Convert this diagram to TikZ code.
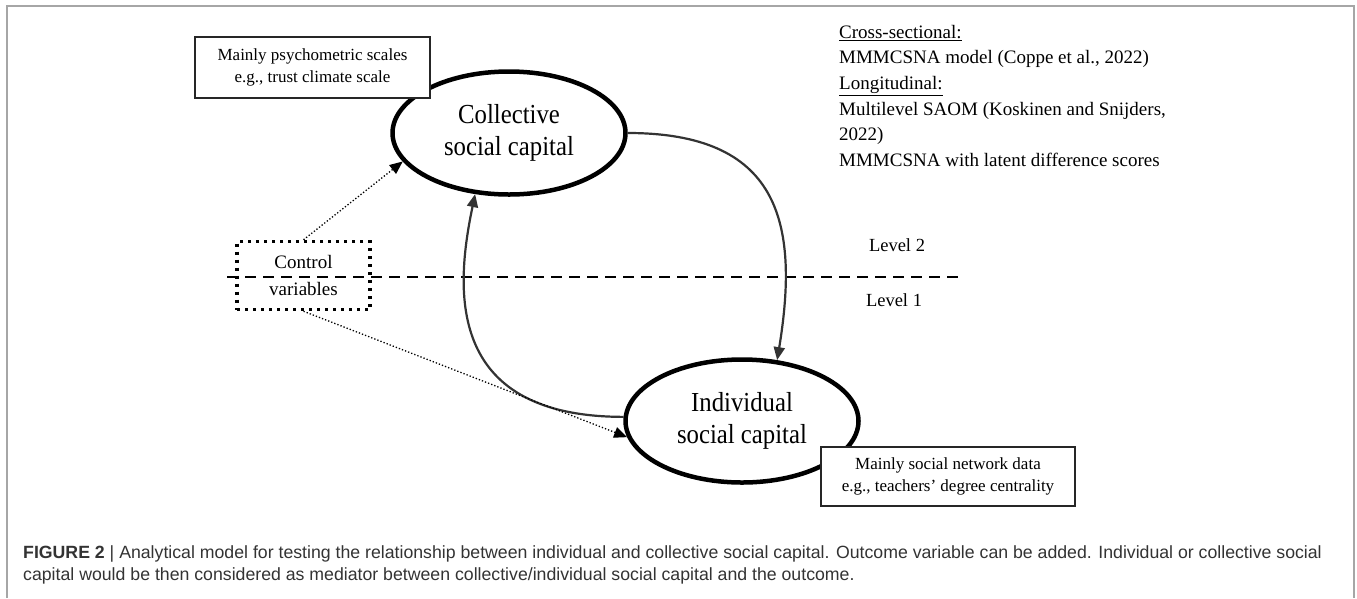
\documentclass[tikz,border=0pt]{standalone}
\usepackage{fontspec}
\setmainfont{Liberation Serif}
\newfontfamily\ellipsefont{Liberation Serif}[FakeStretch=0.9]
\newfontfamily\captionfont{Liberation Sans}
\usetikzlibrary{shapes.geometric, arrows.meta, positioning}
\tikzstyle{capital_node} = [ellipse, draw=black, line width=4.5pt, minimum width=233pt, minimum height=123pt, align=center, font=\ellipsefont\fontsize{27.5}{32}\selectfont]
\tikzstyle{data_box} = [rectangle, draw=black!85, fill=white, line width=1.2pt, align=center, inner sep=0pt, font=\fontsize{17}{22}\selectfont]
\tikzstyle{control_box} = [rectangle, draw=black, line width=3.5pt, dash pattern=on 3pt off 5pt, minimum width=133pt, minimum height=68pt, align=center, inner sep=0pt, font=\fontsize{19}{27}\selectfont]
\tikzstyle{level_label} = [inner sep=0pt, font=\fontsize{18.5}{22}\selectfont]
\tikzstyle{effect_arrow} = [line width=2.2pt, draw=black!80, -{Triangle[length=13pt, width=11pt]}]
\tikzstyle{control_arrow} = [line width=1.3pt, dotted, -{Triangle[length=13pt, width=11pt]}]
\tikzstyle{level_line} = [line width=2.5pt, dash pattern=on 11pt off 7pt]

\begin{document}
\begin{tikzpicture}[x=1pt, y=-1pt]
\useasboundingbox (0,0) rectangle (1357,598);
\draw [gray!70, line width=1.5pt] (7,598) -- (7,6) -- (1354,6) -- (1354,598);

% level divider
\coordinate (lvl_left) at (227,277);
\coordinate (lvl_right) at (959,277);
\draw [level_line] (lvl_left) -- (lvl_right);
\node (lvl_two) [level_label] at (897,245) {Level 2};
\node (lvl_one) [level_label] at (894,300) {Level 1};

\node (coll) [capital_node] at (509,133) {Collective\\social capital};
\node (ind) [capital_node] at (742,421) {Individual\\social capital};

\draw [effect_arrow] (ind.178) .. controls +(-181,0) and +(-19,91) .. (coll.241);
\draw [effect_arrow] (coll.east) .. controls +(150,0) and +(23,-140) .. (ind.60);

\node (psych) [data_box, minimum width=235pt, minimum height=61pt] at (312.5,67.5) {Mainly psychometric scales\\e.g., trust climate scale};
\node (network) [data_box, minimum width=254pt, minimum height=59pt] at (948,476.5) {Mainly social network data\\e.g., teachers' degree centrality};

\node (ctrl) [control_box] at (303.5,275.5) {Control\\variables};
\draw [control_arrow] (ctrl.north) -- (coll.195);
\draw [control_arrow] (ctrl.south) -- (ind.188);

\node (methods) [anchor=north west, inner sep=0pt, align=left, font=\fontsize{19}{25.6}\selectfont] at (839,25) {\underline{Cross-sectional:}\\MMMCSNA model (Coppe et al., 2022)\\\underline{Longitudinal:}\\Multilevel SAOM (Koskinen and Snijders,\\2022)\\MMMCSNA with latent difference scores};

\node (caption) [anchor=north west, inner sep=0pt, align=left, text=black!80, font=\captionfont\fontsize{17.7}{22}\selectfont] at (23,545) {{\bfseries FIGURE 2} | Analytical model for testing the relationship between individual and collective social capital. Outcome variable can be added. Individual or collective social\\capital would be then considered as mediator between collective/individual social capital and the outcome.};
\end{tikzpicture}
\end{document}
